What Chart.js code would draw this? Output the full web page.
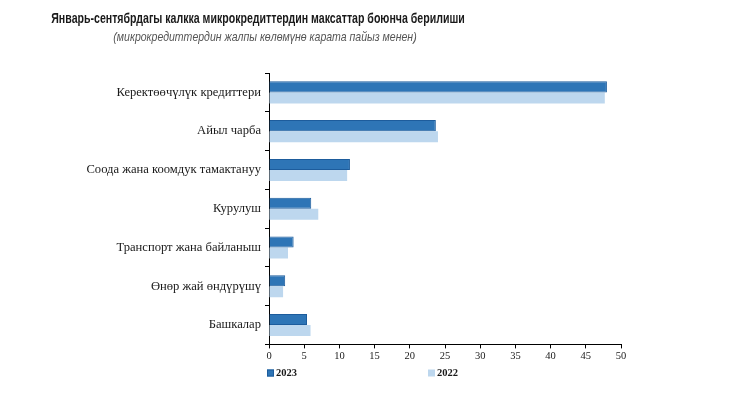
<!DOCTYPE html>
<html>
<head>
<meta charset="utf-8">
<script src="https://cdn.jsdelivr.net/npm/chart.js@4"></script>
<style>
  body { margin: 0; background: #fff; }
  #wrap { width: 730px; height: 397px; position: relative; overflow: hidden; }
  .ttl {
      position: absolute; text-align: center;
      white-space: nowrap; margin: 0; transform-origin: 50% 50%;
  }
  /* the original uses a narrow face; squeeze Liberation Sans to match */
  #title {
      top: 10px; left: -100px; width: 716px;
      font: bold 14.5px "Liberation Sans", Arial, sans-serif;
      color: #1a1a1a; transform: scaleX(0.73);
  }
  #subtitle {
      top: 29px; left: -93px; width: 716px;
      font: italic 13.5px "Liberation Sans", Arial, sans-serif;
      color: #555; transform: scaleX(0.78);
  }
</style>
</head>
<body>
<div id="wrap">
  <canvas id="loansChart"></canvas>
  <div class="ttl" id="title">Январь-сентябрдагы калкка микрокредиттердин максаттар боюнча берилиши</div>
  <div class="ttl" id="subtitle">(микрокредиттердин жалпы көлөмүнө карата пайыз менен)</div>
</div>
<script>
// Data (percent of total microcredit volume)
const categories = [
    'Керектөөчүлүк кредиттери',
    'Айыл чарба',
    'Соода жана коомдук тамактануу',
    'Курулуш',
    'Транспорт жана байланыш',
    'Өнөр жай өндүрүшү',
    'Башкалар'
];
const values2023 = [48.0, 23.7, 11.5, 6.0, 3.5, 2.3, 5.4];
const values2022 = [47.7, 24.0, 11.1, 7.0, 2.7, 2.0, 5.9];
const xTicks = [0, 5, 10, 15, 20, 25, 30, 35, 40, 45, 50];

const serif = '"Liberation Serif", "DejaVu Serif", serif';

// Legend drawn by hand: the two entries sit far apart under the axis
const spreadLegend = {
    id: 'spreadLegend',
    afterDraw(chart) {
        const c = chart.ctx;
        const left = chart.chartArea.left;
        const y = 373;
        const offsets = [-2, 159];
        c.save();
        c.font = 'bold 10.5px ' + serif;
        c.textBaseline = 'middle';
        chart.data.datasets.forEach((ds, i) => {
            const x = left + offsets[i];
            c.fillStyle = ds.backgroundColor;
            c.fillRect(x, y - 3.5, 7, 7);
            if (ds.borderWidth) {
                c.strokeStyle = ds.borderColor;
                c.lineWidth = 1;
                c.strokeRect(x + 0.5, y - 3, 6, 6);
            }
            c.fillStyle = '#1a1a1a';
            c.fillText(ds.label, x + 9, y + 0.5);
        });
        c.restore();
    }
};

const ctx = document.getElementById('loansChart').getContext('2d');
new Chart(ctx, {
    type: 'bar',
    data: {
        labels: categories,
        datasets: [
            {
                label: '2023',
                data: values2023,
                backgroundColor: '#2e75b6',
                borderColor: '#1d5c9c',
                borderWidth: 1,
                barPercentage: 1,
                categoryPercentage: 0.57
            },
            {
                label: '2022',
                data: values2022,
                backgroundColor: '#bdd7ee',
                borderColor: '#bdd7ee',
                borderWidth: 0,
                barPercentage: 1,
                categoryPercentage: 0.57
            }
        ]
    },
    plugins: [spreadLegend],
    options: {
        indexAxis: 'y',
        responsive: true,
        maintainAspectRatio: false,
        animation: false,
        layout: {
            padding: { left: 0, right: 109, top: 73, bottom: 32 }
        },
        plugins: {
            legend: { display: false },
            tooltip: { enabled: false }
        },
        scales: {
            x: {
                min: 0,
                max: 50,
                afterBuildTicks: (scale) => {
                    scale.ticks = xTicks.map(v => ({ value: v }));
                },
                border: { display: true, color: '#000', width: 1 },
                grid: {
                    drawOnChartArea: false,
                    drawTicks: true,
                    tickLength: 4,
                    color: '#000'
                },
                ticks: {
                    color: '#1a1a1a',
                    padding: 2,
                    font: { family: serif, size: 10.5 }
                }
            },
            y: {
                afterFit: (scale) => {
                    scale.width = 269;
                },
                border: { display: true, color: '#000', width: 1 },
                grid: {
                    drawOnChartArea: false,
                    drawTicks: true,
                    tickLength: 4,
                    color: '#000'
                },
                ticks: {
                    color: '#1a1a1a',
                    padding: 4,
                    font: { family: serif, size: 12.6 }
                }
            }
        }
    }
});
</script>
</body>
</html>
